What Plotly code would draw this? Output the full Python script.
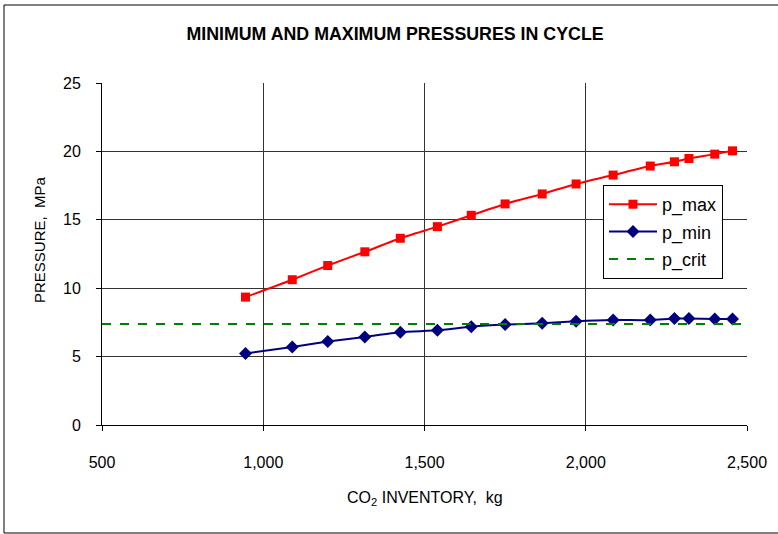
import plotly.graph_objects as go

# ---- data ----
inventory_kg = [945, 1090, 1200, 1315, 1425, 1540, 1645, 1750, 1865, 1970,
                2085, 2200, 2275, 2320, 2400, 2455]
p_max = [9.35, 10.62, 11.66, 12.66, 13.65, 14.50, 15.33, 16.16, 16.89, 17.62,
         18.27, 18.93, 19.24, 19.48, 19.80, 20.04]
p_min = [5.23, 5.71, 6.10, 6.44, 6.78, 6.92, 7.19, 7.34, 7.43, 7.58,
         7.67, 7.67, 7.78, 7.78, 7.75, 7.75]
p_crit_x = [500, 2500]
p_crit_y = [7.38, 7.38]

x_ticks = [500, 1000, 1500, 2000, 2500]
y_ticks = [0, 5, 10, 15, 20, 25]

FONT = "Liberation Sans, Arial, sans-serif"

# plot-area geometry in pixels (for paper-coordinate placement)
L, T, R, B = 102, 83, 747, 425
PW, PH = R - L, B - T


def px(xp):
    return (xp - L) / PW


def py(yp):
    return (B - yp) / PH


fig = go.Figure()
fig.add_trace(go.Scatter(
    x=inventory_kg, y=p_max, name="p_max", mode="lines+markers",
    line=dict(color="#ff0000", width=2, shape="spline", smoothing=0.6),
    marker=dict(symbol="square", size=9, color="#ff0000"),
    legendgroup="a"))
fig.add_trace(go.Scatter(
    x=inventory_kg, y=p_min, name="p_min", mode="lines+markers",
    line=dict(color="#000080", width=2, shape="spline", smoothing=0.6),
    marker=dict(symbol="diamond", size=10, color="#000080"),
    legendgroup="b"))
fig.add_trace(go.Scatter(
    x=p_crit_x, y=p_crit_y, name="p_crit", mode="lines",
    line=dict(color="#008000", width=2, dash="dash"),
    legendgroup="c"))

axis_common = dict(
    showline=True, linecolor="black", linewidth=1,
    showgrid=True, gridcolor="#333333", gridwidth=1,
    ticks="outside", ticklen=5, tickcolor="black",
    tickfont=dict(family=FONT, size=16, color="black"),
    zeroline=False, mirror=False,
)

fig.update_layout(
    width=778, height=534,
    margin=dict(l=L, r=778 - R, t=T, b=534 - B),
    paper_bgcolor="white", plot_bgcolor="white",
    font=dict(family=FONT, color="black"),
    title=dict(text="<b>MINIMUM AND MAXIMUM PRESSURES IN CYCLE</b>",
               x=395 / 778, xanchor="center", y=1 - 34 / 534, yanchor="middle",
               font=dict(family=FONT, size=17.8, color="black")),
    xaxis=dict(range=[500, 2500], tickvals=x_ticks, tickformat=",d",
               ticklabelstandoff=18, **axis_common),
    yaxis=dict(range=[0, 25], tickvals=y_ticks, ticklabelstandoff=12,
               **axis_common),
    legend=dict(x=px(603), y=py(185), xanchor="left", yanchor="top",
                bgcolor="white", bordercolor="black", borderwidth=1,
                font=dict(family=FONT, size=18, color="black"),
                itemwidth=48,
                traceorder="grouped", tracegroupgap=1),
    showlegend=True,
    annotations=[
        dict(text="CO<sub>2</sub> INVENTORY,  kg", xref="paper", yref="paper",
             x=px(425), y=py(498), xanchor="center", yanchor="middle",
             showarrow=False, font=dict(family=FONT, size=16, color="black")),
        dict(text="PRESSURE,  MPa", xref="paper", yref="paper",
             x=px(40), y=py(240), xanchor="center", yanchor="middle",
             textangle=-90, showarrow=False,
             font=dict(family=FONT, size=15, color="black")),
    ],
    shapes=[dict(type="rect", xref="paper", yref="paper",
                 x0=px(4), x1=px(800), y0=py(533), y1=py(5),
                 line=dict(color="black", width=1), fillcolor="rgba(0,0,0,0)",
                 layer="below")],
)

fig.write_html("out.html", config={"displayModeBar": False},
               post_script="document.body.style.margin='0';")
